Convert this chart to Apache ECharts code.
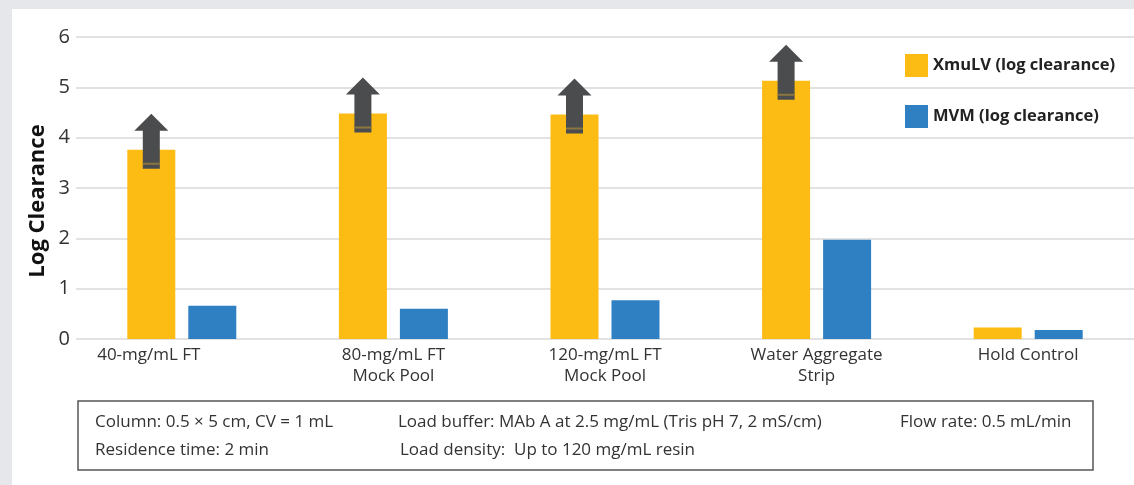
<!DOCTYPE html>
<html>
<head>
<meta charset="utf-8">
<script src="https://cdn.jsdelivr.net/npm/echarts@6/dist/echarts.min.js"></script>
<style>
html,body{margin:0;padding:0;background:#e6e7ea;}
#wrap{position:absolute;left:0;top:0;width:1134px;height:485px;background:#e6e7ea;}
#chart{position:absolute;left:12px;top:9px;width:1122px;height:476px;background:#fff;}
</style>
</head>
<body>
<div id="wrap"><div id="chart"></div></div>
<script>
// ---- data ----
const categories = ['40-mg/mL FT', '80-mg/mL FT\nMock Pool', '120-mg/mL FT\nMock Pool', 'Water Aggregate\nStrip', 'Hold Control'];
const xmulv = [3.76, 4.48, 4.46, 5.13, 0.23];
const mvm = [0.66, 0.60, 0.77, 1.97, 0.18];
const greaterThan = [true, true, true, true, false]; // arrow = clearance at or above detection limit
const yTicks = [0, 1, 2, 3, 4, 5, 6];
const seriesNames = ['XmuLV (log clearance)', 'MVM (log clearance)'];
const yAxisTitle = 'Log Clearance';
const noteLines = [
  ['Column: 0.5 \u00d7 5 cm, CV = 1 mL', 'Load buffer: MAb A at 2.5 mg/mL (Tris pH 7, 2 mS/cm)', 'Flow rate: 0.5 mL/min'],
  ['Residence time: 2 min', 'Load density:  Up to 120 mg/mL resin', '']
];

// ---- style ----
const FONT = 'Open Sans';
const YELLOW = '#FDBC14';
const BLUE = '#2F80C3';
const BAR_W = 48;
const BAR_GAP_PX = 13;
const OX = 12, OY = 9; // chart panel offset inside page
const NOTE_FONT = '17px "' + FONT + '"';

const chart = echarts.init(document.getElementById('chart'), null, {renderer: 'canvas'});

const arrowData = [];
xmulv.forEach((v, i) => { if (greaterThan[i]) arrowData.push([i, v]); });

const yellowOffset = -(BAR_W + BAR_GAP_PX) / 2;

// first label sits left of its bar group in the original
const axisData = categories.map((c, i) => i === 0 ? {value: c, textStyle: {padding: [0, 66, 0, 0]}} : c);

chart.setOption({
  animation: false,
  textStyle: {fontFamily: FONT},
  grid: {left: 76 - OX, right: 0, top: 37 - OY, bottom: 485 - 339, containLabel: false},
  legend: {
    orient: 'vertical',
    left: 905 - OX, top: 54 - OY, padding: 0,
    itemWidth: 23, itemHeight: 23, itemGap: 28,
    icon: 'rect',
    data: seriesNames,
    textStyle: {fontFamily: FONT, fontSize: 16.5, fontWeight: 'bold', color: '#222'}
  },
  xAxis: {
    type: 'category',
    data: axisData,
    axisLine: {show: false},
    axisTick: {show: false},
    axisLabel: {fontFamily: FONT, fontSize: 17, color: '#333', margin: 6, lineHeight: 21, interval: 0}
  },
  yAxis: {
    type: 'value',
    min: yTicks[0], max: yTicks[yTicks.length - 1], interval: 1,
    axisLine: {show: false},
    axisTick: {show: false},
    splitLine: {lineStyle: {color: '#e2e2e2', width: 2}},
    axisLabel: {fontFamily: FONT, fontSize: 20, color: '#333', margin: 6}
  },
  series: [
    {
      name: seriesNames[0], type: 'bar', data: xmulv,
      barWidth: BAR_W, barGap: (BAR_GAP_PX / BAR_W * 100) + '%',
      itemStyle: {color: YELLOW}
    },
    {
      name: seriesNames[1], type: 'bar', data: mvm,
      barWidth: BAR_W,
      itemStyle: {color: BLUE}
    },
    {
      name: 'arrows', type: 'custom', z: 5,
      data: arrowData,
      renderItem: function (params, api) {
        const p = api.coord([api.value(0), api.value(1)]);
        const x0 = p[0] + yellowOffset, y0 = p[1];
        return {
          type: 'group',
          children: [
            {
              type: 'polygon',
              shape: {points: [
                [x0, y0 - 36], [x0 + 17, y0 - 19], [x0 + 8.5, y0 - 19], [x0 + 8.5, y0 + 19],
                [x0 - 8.5, y0 + 19], [x0 - 8.5, y0 - 19], [x0 - 17, y0 - 19]
              ]},
              style: {fill: '#4b4c4e'}
            },
            {
              type: 'rect',
              shape: {x: x0 - 8.5, y: y0 + 13, width: 17, height: 2},
              style: {fill: '#8c7640'}
            }
          ]
        };
      }
    }
  ],
  graphic: [
    {
      type: 'text', x: 38 - OX, y: 201 - OY, rotation: Math.PI / 2,
      style: {text: yAxisTitle, font: 'bold 22px "' + FONT + '"', fill: '#111', align: 'center', verticalAlign: 'middle'}
    },
    {
      type: 'rect', shape: {x: 78 - OX, y: 401 - OY, width: 1015, height: 69},
      style: {fill: 'none', stroke: '#555', lineWidth: 1.5}
    },
    {type: 'text', x: 95 - OX, y: 422 - OY, style: {text: noteLines[0][0], font: NOTE_FONT, fill: '#333', verticalAlign: 'middle'}},
    {type: 'text', x: 398 - OX, y: 422 - OY, style: {text: noteLines[0][1], font: NOTE_FONT, fill: '#333', verticalAlign: 'middle'}},
    {type: 'text', x: 900 - OX, y: 422 - OY, style: {text: noteLines[0][2], font: NOTE_FONT, fill: '#333', verticalAlign: 'middle'}},
    {type: 'text', x: 95 - OX, y: 450 - OY, style: {text: noteLines[1][0], font: NOTE_FONT, fill: '#333', verticalAlign: 'middle'}},
    {type: 'text', x: 400 - OX, y: 450 - OY, style: {text: noteLines[1][1], font: NOTE_FONT, fill: '#333', verticalAlign: 'middle'}}
  ]
});
</script>
</body>
</html>
